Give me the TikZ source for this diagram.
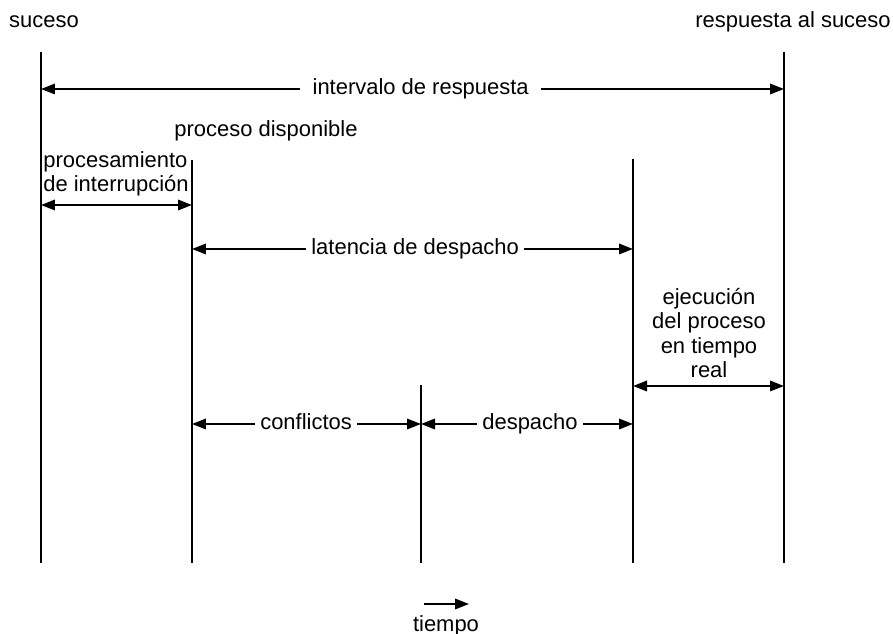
\documentclass[tikz,border=0pt]{standalone}
\usepackage{fontspec}
\setmainfont{Liberation Sans}
\usetikzlibrary{arrows.meta}

\begin{document}
\begin{tikzpicture}[x=0.02cm, y=-0.02cm, font=\fontsize{12.5}{14}\selectfont,
  tline/.style={line width=1.3pt},
  span/.style={line width=1pt, {Triangle[length=0.28cm,width=0.21cm]}-{Triangle[length=0.28cm,width=0.21cm]}},
  gaplbl/.style={fill=white, inner xsep=3pt, inner ysep=1pt, text height=9pt, text depth=2.6pt}]
  \useasboundingbox (0,0) rectangle (893,634);
  % vertical time lines
  \coordinate (top1) at (41,52);   \coordinate (bot1) at (41,563);
  \coordinate (top2) at (192,160); \coordinate (bot2) at (192,563);
  \coordinate (top3) at (421,385); \coordinate (bot3) at (421,563);
  \coordinate (top4) at (633,159); \coordinate (bot4) at (633,563);
  \coordinate (top5) at (784,52);  \coordinate (bot5) at (784,563);
  \foreach \i in {1,...,5} \draw[tline] (top\i) -- (bot\i);
  % event labels
  \node (ev) at (44,22) {suceso};
  \node (resp) at (793,22) {respuesta al suceso};
  \node (ready) at (266,131) {proceso disponible};
  \node[align=left, anchor=west, inner sep=0pt] (intr) at (43,174) {procesamiento\\de interrupci\'on};
  \node[align=center, inner sep=0pt] (exec) at (709,333) {ejecuci\'on\\del proceso\\en tiempo\\real};
  % intervals
  \coordinate (iv1) at (41,89);  \coordinate (iv5) at (784,89);
  \draw[span] (iv1) -- (iv5) node[gaplbl, pos=0.511, inner xsep=7pt] (resint) {intervalo de respuesta};
  \coordinate (ip1) at (41,205); \coordinate (ip2) at (192,205);
  \draw[span] (ip1) -- (ip2);
  \coordinate (ld2) at (192,249); \coordinate (ld4) at (633,249);
  \draw[span] (ld2) -- (ld4) node[gaplbl, pos=0.506] (lat) {latencia de despacho};
  \coordinate (ex4) at (633,386); \coordinate (ex5) at (784,386);
  \draw[span] (ex4) -- (ex5);
  \coordinate (cf2) at (192,424); \coordinate (cf3) at (421,424); \coordinate (cf4) at (633,424);
  \draw[span] (cf2) -- (cf3) node[gaplbl, pos=0.498] (conf) {conflictos};
  \draw[span] (cf3) -- (cf4) node[gaplbl, pos=0.514] (disp) {despacho};
  % time direction
  \coordinate (tm0) at (424,604); \coordinate (tm1) at (469,604);
  \draw[line width=1pt, -{Triangle[length=0.28cm,width=0.21cm]}] (tm0) -- (tm1);
  \node (tm) at (446,626) {tiempo};
\end{tikzpicture}
\end{document}
